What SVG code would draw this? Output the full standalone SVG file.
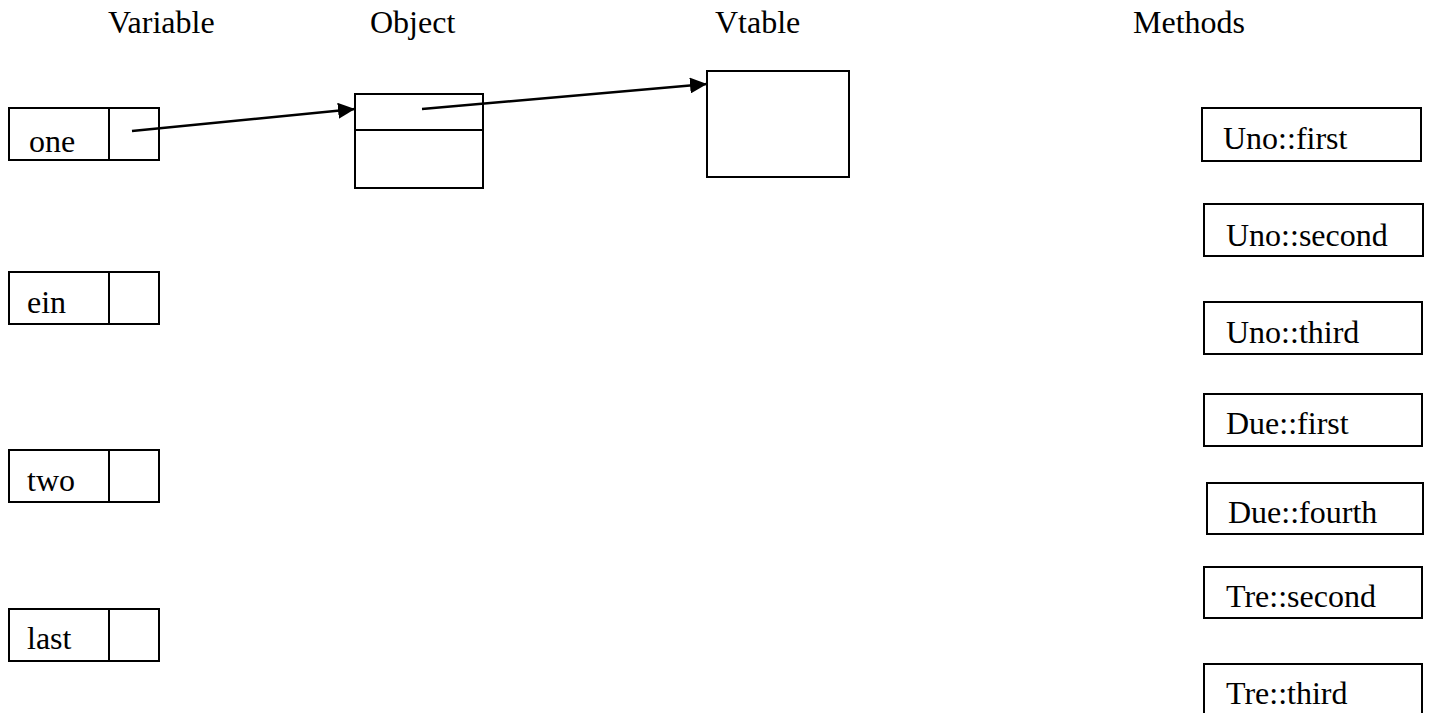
<svg xmlns="http://www.w3.org/2000/svg" width="1431" height="713" viewBox="0 0 1431 713">
<style>
text{font-family:"Liberation Serif","Times New Roman",serif;font-size:32px;fill:#000}
.box{fill:#fff;stroke:#000;stroke-width:2}
.ln{stroke:#000;stroke-width:2}
.conn{stroke:#000;stroke-width:2.5;fill:none;marker-end:url(#ah)}
</style>
<defs>
<marker id="ah" markerUnits="userSpaceOnUse" markerWidth="18" markerHeight="16" refX="17" refY="8" orient="auto">
<path d="M0,0 L17,8 L0,16 z" fill="#000"/>
</marker>
</defs>
<rect width="1431" height="713" fill="#fff"/>
<g id="headers">
<text x="108" y="33">Variable</text>
<text x="370" y="33">Object</text>
<text x="715" y="33">Vtable</text>
<text x="1133" y="33">Methods</text>
</g>
<g id="var-one"><rect class="box" x="9" y="108" width="150" height="52"/><line class="ln" x1="109" y1="108" x2="109" y2="160"/><text x="29" y="152">one</text></g>
<g id="var-ein"><rect class="box" x="9" y="272" width="150" height="52"/><line class="ln" x1="109" y1="272" x2="109" y2="324"/><text x="27" y="313">ein</text></g>
<g id="var-two"><rect class="box" x="9" y="450" width="150" height="52"/><line class="ln" x1="109" y1="450" x2="109" y2="502"/><text x="27" y="491">two</text></g>
<g id="var-last"><rect class="box" x="9" y="609" width="150" height="52"/><line class="ln" x1="109" y1="609" x2="109" y2="661"/><text x="27" y="649">last</text></g>
<g id="object"><rect class="box" x="355" y="94" width="128" height="94"/><line class="ln" x1="355" y1="130" x2="483" y2="130"/></g>
<g id="vtable"><rect class="box" x="707" y="71" width="142" height="106"/></g>
<g id="m-uno-first"><rect class="box" x="1202" y="108" width="219" height="53"/><text x="1223" y="149">Uno::first</text></g>
<g id="m-uno-second"><rect class="box" x="1204" y="204" width="219" height="52"/><text x="1226" y="246">Uno::second</text></g>
<g id="m-uno-third"><rect class="box" x="1204" y="302" width="218" height="52"/><text x="1226" y="343">Uno::third</text></g>
<g id="m-due-first"><rect class="box" x="1204" y="394" width="218" height="52"/><text x="1226" y="434">Due::first</text></g>
<g id="m-due-fourth"><rect class="box" x="1207" y="483" width="216" height="51"/><text x="1228" y="523">Due::fourth</text></g>
<g id="m-tre-second"><rect class="box" x="1204" y="567" width="218" height="51"/><text x="1226" y="607">Tre::second</text></g>
<g id="m-tre-third"><rect class="box" x="1204" y="664" width="218" height="60"/><text x="1226" y="704">Tre::third</text></g>
<g id="connectors">
<line class="conn" x1="132" y1="131" x2="355" y2="109"/>
<line class="conn" x1="422" y1="109" x2="707" y2="84"/>
</g>
</svg>
